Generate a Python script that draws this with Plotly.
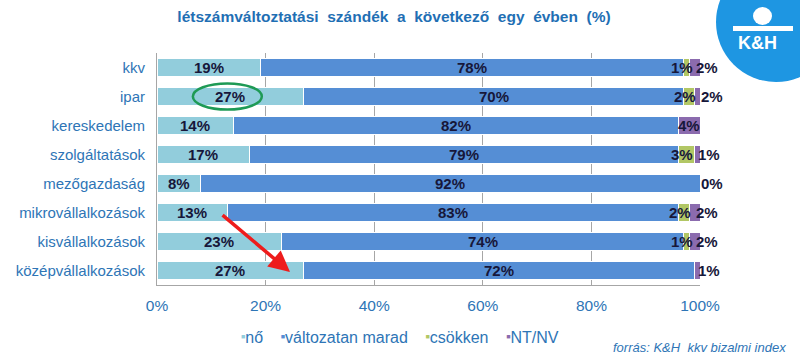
import plotly.graph_objects as go

categories = ["kkv", "ipar", "kereskedelem", "szolgáltatások", "mezőgazdaság",
              "mikrovállalkozások", "kisvállalkozások", "középvállalkozások"]
no = [19, 27, 14, 17, 8, 13, 23, 27]
valtozatlan = [78, 70, 82, 79, 92, 83, 74, 72]
csokken = [1, 2, 0, 3, 0, 2, 1, 0]
ntnv = [2, 2, 4, 1, 0, 2, 2, 1]
series_names = ["nő", "változatan marad", "csökken", "NT/NV"]
tick_vals = [0, 20, 40, 60, 80, 100]
tick_text = ["0%", "20%", "40%", "60%", "80%", "100%"]

colors = ["#92CDDC", "#558ED5", "#B2C765", "#8B6BAE"]
series = [no, valtozatlan, csokken, ntnv]
FONT = "Liberation Sans, Arial"
BLUE_TXT = "#2E75B6"

fig = go.Figure()
for name, vals, col in zip(series_names, series, colors):
    fig.add_trace(go.Bar(
        y=categories, x=vals, name=name, orientation="h",
        marker=dict(color=col, line=dict(color="white", width=1)),
        hoverinfo="x+y+name", showlegend=False,
    ))

# data labels computed from cumulative sums
label_font = dict(family=FONT, size=15, color="#17173A")
for i, cat in enumerate(categories):
    start = 0
    for s, vals in enumerate(series):
        v = vals[i]
        center = start + v / 2
        show = v > 0 or (s == 3 and csokken[i] + ntnv[i] == 0)
        if show:
            shift = 0
            if s == 2 and ntnv[i] < 3:
                shift = -4
            if s == 3 and v < 3:
                shift = 12
            if s == 3 and v == 0:
                center = 100
            fig.add_annotation(x=center, y=cat, text=f"<b>{v}%</b>", showarrow=False,
                               font=label_font, xshift=shift, xanchor="center")
        start += v

# green ellipse around ipar 27%
fig.add_shape(type="circle", xref="x", yref="y", x0=6.6, x1=19.3, y0=0.55, y1=1.45,
              line=dict(color="#1E9A55", width=2.5))
# red arrow
fig.add_annotation(x=24.5, y=7.05, ax=11.8, ay=5.05, xref="x", yref="y", axref="x", ayref="y",
                   text="", showarrow=True, arrowhead=2, arrowsize=1.2, arrowwidth=3.5,
                   arrowcolor="#EE1C1C")


def px(x):
    return (x - 157) / 543


def py(y):
    return 1 + (53 - y) / 232


# legend (as one line of text with coloured squares)
legend_parts = []
for name, col in zip(series_names, colors):
    legend_parts.append(
        f"<span style='color:{col};font-size:10px'><sup>■</sup></span>{name}")
fig.add_annotation(xref="paper", yref="paper", x=px(400), y=py(337),
                   text="    ".join(legend_parts), showarrow=False, xanchor="center", yanchor="middle",
                   font=dict(family=FONT, size=16, color=BLUE_TXT))

# logo
fig.add_shape(type="circle", xref="paper", yref="paper", x0=px(716), x1=px(836),
              y0=py(82), y1=py(-38), fillcolor="#1E96E2", line=dict(width=0), layer="above")
fig.add_shape(type="circle", xref="paper", yref="paper", x0=px(753), x1=px(772),
              y0=py(25), y1=py(7), fillcolor="white", line=dict(width=0), layer="above")
fig.add_shape(type="rect", xref="paper", yref="paper", x0=px(733), x1=px(793),
              y0=py(31), y1=py(26), fillcolor="white", line=dict(width=0), layer="above")
fig.add_annotation(xref="paper", yref="paper", x=px(757), y=py(43), text="<b>K&H</b>",
                   showarrow=False, xanchor="center", yanchor="middle",
                   font=dict(family=FONT, size=18, color="white"))

fig.add_annotation(xref="paper", yref="paper", x=px(788), y=py(347),
                   text="<i>forrás: K&H  kkv bizalmi index</i>", showarrow=False, xanchor="right",
                   yanchor="middle",
                   font=dict(family="Liberation Sans Narrow, Liberation Sans, Arial", size=13, color=BLUE_TXT))

fig.update_layout(
    barmode="stack", bargap=0.4,
    width=800, height=359,
    margin=dict(l=157, r=100, t=53, b=74, autoexpand=False),
    paper_bgcolor="white", plot_bgcolor="white",
    title=dict(text="<b>létszámváltoztatási  szándék  a  következő  egy  évben  (%)</b>",
               x=394 / 800, xanchor="center", y=1 - 17 / 359, yanchor="middle",
               font=dict(family=FONT, size=15.5, color="#1F6FB4")),
    font=dict(family=FONT, size=16, color=BLUE_TXT),
    showlegend=False,
)
fig.update_xaxes(range=[0, 100], tickvals=tick_vals, ticktext=tick_text, showgrid=True,
                 gridcolor="#A6A6A6", gridwidth=1, showline=True, linecolor="#A6A6A6",
                 mirror=False, zeroline=False, ticks="", ticklabelstandoff=6, automargin=False,
                 tickfont=dict(size=15.5, color=BLUE_TXT))
fig.update_yaxes(autorange="reversed", showline=True, linecolor="#A6A6A6", ticks="",
                 ticklabelstandoff=8, automargin=False, tickfont=dict(size=15, color=BLUE_TXT))

fig.write_html("out.html", config={"displayModeBar": False},
               post_script="document.body.style.margin='0';document.body.style.overflow='hidden';")
